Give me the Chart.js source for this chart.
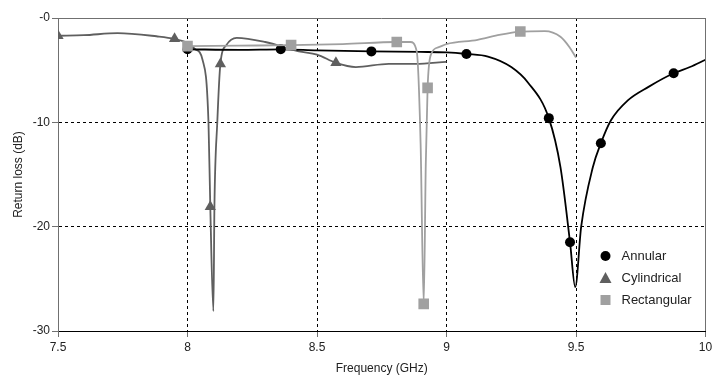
<!DOCTYPE html>
<html>
<head>
<meta charset="utf-8">
<title>Return loss</title>
<script src="https://cdn.jsdelivr.net/npm/chart.js@4.4.1/dist/chart.umd.min.js"></script>
<style>
  html, body { margin: 0; padding: 0; background: #fff; }
  #chart { display: block; }
</style>
</head>
<body>
<canvas id="chart" width="713" height="381"></canvas>
<script>
const seriesNames = ['Annular', 'Cylindrical', 'Rectangular'];

// Annular antenna (black, circles)
const annularFreq = [8.0, 8.2, 8.36, 8.5, 8.71, 8.9, 9.0, 9.077, 9.16, 9.25, 9.315, 9.395, 9.44, 9.477, 9.497, 9.52, 9.565, 9.596, 9.635, 9.70, 9.78, 9.877, 9.94, 10.0];
const annularLoss = [-3.0, -3.05, -3.0, -3.1, -3.2, -3.25, -3.3, -3.45, -3.7, -4.7, -6.2, -9.6, -14.3, -21.5, -25.8, -20.0, -14.3, -12.0, -9.8, -7.9, -6.6, -5.3, -4.7, -4.0];
const annularMarks = [8.0, 8.36, 8.71, 9.077, 9.395, 9.477, 9.596, 9.877];

// Cylindrical antenna (dark grey, triangles)
const cylFreq = [7.5, 7.6, 7.73, 7.88, 7.95, 8.0, 8.03, 8.058, 8.081, 8.088, 8.10, 8.104, 8.115, 8.127, 8.15, 8.19, 8.3, 8.43, 8.5, 8.573, 8.65, 8.777, 8.88, 9.0];
const cylLoss = [-1.7, -1.65, -1.45, -1.75, -2.0, -2.4, -3.0, -4.0, -10.0, -18.1, -28.1, -18.0, -10.0, -4.4, -2.6, -1.9, -2.3, -3.2, -3.5, -4.3, -4.7, -4.4, -4.4, -4.2];
const cylMarks = [7.5, 7.95, 8.088, 8.127, 8.573];

// Rectangular antenna (light grey, squares)
const rectFreq = [8.0, 8.2, 8.4, 8.6, 8.808, 8.86, 8.885, 8.9, 8.912, 8.92, 8.927, 8.94, 8.97, 9.0, 9.12, 9.19, 9.285, 9.38, 9.44, 9.475, 9.5];
const rectLoss = [-2.7, -2.65, -2.6, -2.5, -2.3, -2.3, -3.2, -12.0, -27.4, -14.0, -6.7, -3.5, -2.8, -2.5, -2.1, -1.7, -1.3, -1.25, -1.8, -2.8, -3.8];
const rectMarks = [8.0, 8.4, 8.808, 8.912, 8.927, 9.285];

const xTicks = [7.5, 8, 8.5, 9, 9.5, 10];
const yTicks = [0, -10, -20, -30];

const FONT = "'Liberation Sans', Arial, sans-serif";

function points(freq, loss) {
    return freq.map((f, i) => ({ x: f, y: loss[i] }));
}

function radii(freq, marks, r) {
    return freq.map(f => marks.some(m => Math.abs(m - f) < 1e-6) ? r : 0);
}

function makeSeries(label, freq, loss, marks, color, style, r, order) {
    return {
        label: label,
        data: points(freq, loss),
        borderColor: color,
        backgroundColor: color,
        borderWidth: 1.8,
        pointStyle: style,
        pointRadius: radii(freq, marks, r),
        pointBorderWidth: 0,
        cubicInterpolationMode: 'monotone',
        order: order
    };
}

const legendColors = ['#000000', '#5f5f5f', '#a0a0a0'];
const legendStyles = ['circle', 'triangle', 'rect'];

// top/right frame and the legend inside the plot area
const frameAndLegend = {
    id: 'frameAndLegend',
    afterDatasetsDraw(chart) {
        const { ctx, chartArea: a } = chart;
        ctx.save();
        ctx.strokeStyle = '#707070';
        ctx.lineWidth = 1;
        ctx.beginPath();
        ctx.moveTo(a.left, Math.round(a.top) + 0.5);
        ctx.lineTo(a.right, Math.round(a.top) + 0.5);
        ctx.moveTo(Math.round(a.right) - 0.5, a.top);
        ctx.lineTo(Math.round(a.right) - 0.5, a.bottom);
        ctx.stroke();

        const mx = a.right - 100;
        const tx = a.right - 84;
        let y = a.top + 238;
        ctx.font = '13px ' + FONT;
        ctx.textBaseline = 'middle';
        seriesNames.forEach((name, i) => {
            ctx.fillStyle = legendColors[i];
            ctx.beginPath();
            if (legendStyles[i] === 'circle') {
                ctx.arc(mx, y, 5, 0, Math.PI * 2);
            } else if (legendStyles[i] === 'triangle') {
                ctx.moveTo(mx, y - 6);
                ctx.lineTo(mx + 6, y + 5);
                ctx.lineTo(mx - 6, y + 5);
                ctx.closePath();
            } else {
                ctx.rect(mx - 5, y - 5, 10, 10);
            }
            ctx.fill();
            ctx.fillStyle = '#222';
            ctx.fillText(name, tx, y);
            y += 22;
        });
        ctx.restore();
    }
};

const ctx = document.getElementById('chart');

new Chart(ctx, {
    type: 'line',
    data: {
        datasets: [
            makeSeries(seriesNames[0], annularFreq, annularLoss, annularMarks, '#000000', 'circle', 5, 1),
            makeSeries(seriesNames[1], cylFreq, cylLoss, cylMarks, '#5f5f5f', 'triangle', 6.5, 2),
            makeSeries(seriesNames[2], rectFreq, rectLoss, rectMarks, '#a0a0a0', 'rect', 7.5, 0)
        ]
    },
    options: {
        responsive: false,
        animation: false,
        devicePixelRatio: 1,
        layout: {
            padding: { top: 18, right: 6, left: 0, bottom: 0 }
        },
        plugins: {
            legend: { display: false },
            tooltip: { enabled: false }
        },
        scales: {
            x: {
                type: 'linear',
                min: 7.5,
                max: 10,
                afterBuildTicks: function(scale) {
                    scale.ticks = xTicks.map(v => ({ value: v }));
                },
                afterFit: function(scale) {
                    scale.height = 50;
                    scale.paddingLeft = 0;
                    scale.paddingRight = 0;
                },
                ticks: {
                    color: '#222',
                    font: { family: FONT, size: 12 },
                    padding: 3,
                    maxRotation: 0,
                    callback: function(value) {
                        return String(Math.round(value * 10) / 10);
                    }
                },
                grid: {
                    color: function(c) {
                        const v = c.tick ? c.tick.value : null;
                        return (v === 7.5 || v === 10) ? 'rgba(0,0,0,0)' : '#000';
                    },
                    tickColor: '#707070',
                    tickLength: 6
                },
                border: { color: '#000', width: 1, dash: [3, 3] },
                title: {
                    display: true,
                    text: 'Frequency (GHz)',
                    color: '#222',
                    font: { family: FONT, size: 12 },
                    padding: { top: 0, bottom: 5 }
                }
            },
            y: {
                type: 'linear',
                min: -30,
                max: 0,
                afterBuildTicks: function(scale) {
                    scale.ticks = yTicks.map(v => ({ value: v }));
                },
                afterFit: function(scale) {
                    scale.width = 58;
                },
                ticks: {
                    color: '#222',
                    font: { family: FONT, size: 12 },
                    padding: 2,
                    callback: function(value) {
                        return value === 0 ? '-0' : String(value);
                    }
                },
                grid: {
                    color: function(c) {
                        const v = c.tick ? c.tick.value : null;
                        return (v === 0 || v === -30) ? 'rgba(0,0,0,0)' : '#000';
                    },
                    tickColor: '#707070',
                    tickLength: 6
                },
                border: { color: '#707070', width: 1, dash: [3, 3] },
                title: {
                    display: true,
                    text: 'Return loss (dB)',
                    color: '#222',
                    font: { family: FONT, size: 12 },
                    padding: { top: 11, bottom: 0 }
                }
            }
        }
    },
    plugins: [frameAndLegend]
});
</script>
</body>
</html>
